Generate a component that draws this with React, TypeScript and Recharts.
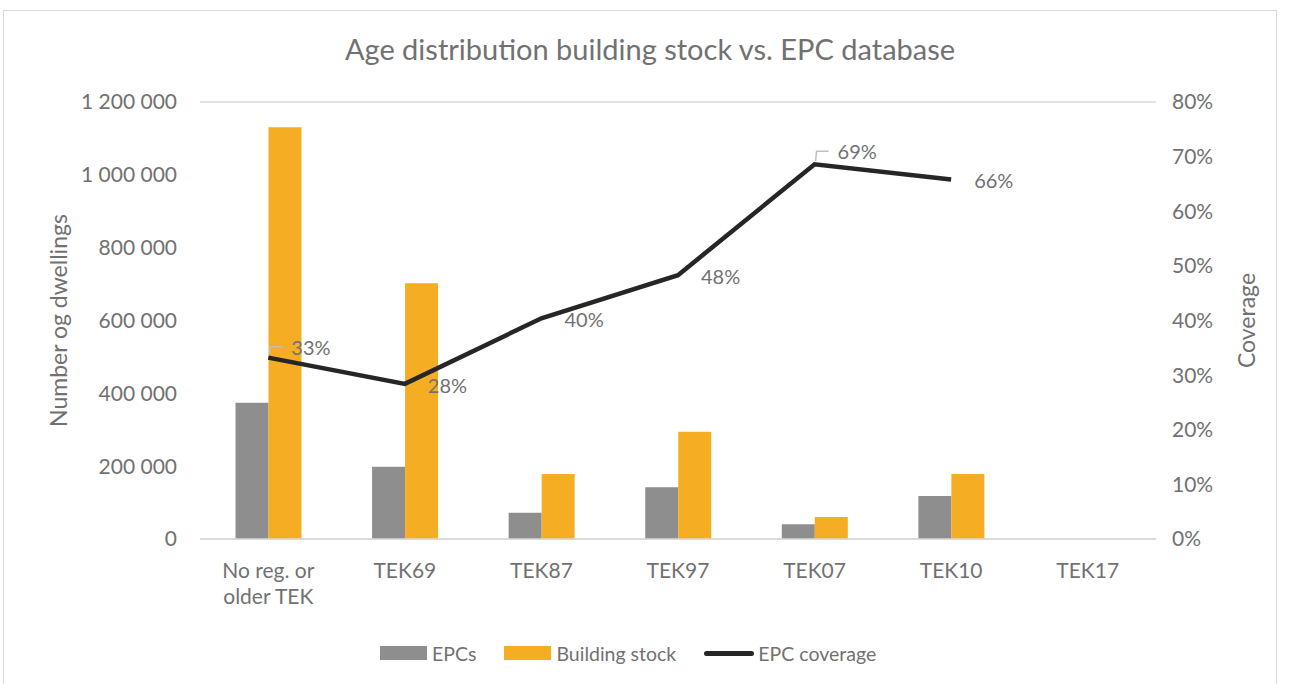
import React from "react";
import {
  ComposedChart,
  Bar,
  Line,
  XAxis,
  YAxis,
  CartesianGrid,
  Legend,
  LabelList,
  Text,
} from "recharts";

const categories = [
  "No reg. or older TEK",
  "TEK69",
  "TEK87",
  "TEK97",
  "TEK07",
  "TEK10",
  "TEK17",
];
const epcs = [374000, 198500, 72000, 142000, 40300, 118000, null];
const buildingStock = [1131000, 702000, 178500, 294600, 60400, 178500, null];
const coverage = [0.332, 0.284, 0.404, 0.483, 0.686, 0.658, null];

const seriesNames = ["EPCs", "Building stock", "EPC coverage"];
const leftTicks = [0, 200000, 400000, 600000, 800000, 1000000, 1200000];
const rightTicks = [0, 0.1, 0.2, 0.3, 0.4, 0.5, 0.6, 0.7, 0.8];

const data = categories.map((name, i) => ({
  name,
  EPCs: epcs[i],
  "Building stock": buildingStock[i],
  "EPC coverage": coverage[i],
}));

const FONT = "Lato, 'Open Sans', sans-serif";
const TEXT = "#717171";
const GRID = "#d9d9d9";
const GREY = "#8e8e8e";
const ORANGE = "#f5ad23";
const LINE = "#262626";

// labels that Excel moved up, with a leader line
const LABEL_NUDGE: Record<number, number> = { 0: -10, 4: -12 };

const fmtThousands = (v: number) =>
  v.toString().replace(/\B(?=(\d{3})+(?!\d))/g, " ");

function CategoryTick(props: any) {
  const { x, y, payload } = props;
  return (
    <Text
      x={x}
      y={y + 24}
      width={100}
      textAnchor="middle"
      verticalAnchor="start"
      lineHeight={26}
      fontSize={21}
      fontFamily={FONT}
      fill={TEXT}
    >
      {payload.value}
    </Text>
  );
}

function CoverageLabel(props: any) {
  const { x, y, value, index } = props;
  if (value == null || x == null || y == null) return null;
  const leader = index in LABEL_NUDGE;
  const dy = leader ? LABEL_NUDGE[index] : 1.5;
  return (
    <g>
      {leader && (
        <path
          d={`M${x + 1},${y - 3} L${x + 2},${y + dy - 1} L${x + 14},${y + dy - 1}`}
          stroke="#bfbfbf"
          strokeWidth={1.5}
          fill="none"
        />
      )}
      <text
        x={x + 23}
        y={y + dy}
        dy="0.36em"
        fontSize={20}
        fontFamily={FONT}
        fill={TEXT}
      >
        {Math.round(value * 100)}%
      </text>
    </g>
  );
}

function LegendContent(props: any) {
  const items = [...(props.payload || [])].sort(
    (a: any, b: any) => seriesNames.indexOf(a.value) - seriesNames.indexOf(b.value)
  );
  return (
    <div
      style={{
        height: 28,
        display: "flex",
        alignItems: "center",
        paddingLeft: 376,
        fontFamily: FONT,
        fontSize: 19.5,
        color: TEXT,
      }}
    >
      {items.map((it: any) => (
        <div
          key={it.value}
          style={{ display: "flex", alignItems: "center", marginRight: 28 }}
        >
          {it.type === "line" ? (
            <div
              style={{
                width: 50,
                height: 5,
                borderRadius: 3,
                background: it.color,
                marginRight: 4,
              }}
            />
          ) : (
            <div
              style={{
                width: 47,
                height: 14,
                background: it.color,
                marginRight: 5,
              }}
            />
          )}
          <span>{it.value}</span>
        </div>
      ))}
    </div>
  );
}

export default function App() {
  return (
    <div
      style={{
        position: "absolute",
        left: 3,
        top: 10,
        width: 1272,
        height: 680,
        border: `1px solid ${GRID}`,
        background: "#fff",
      }}
    >
      <div
        style={{
          position: "absolute",
          top: 21,
          left: 0,
          width: 1272,
          paddingLeft: 20,
          boxSizing: "border-box",
          textAlign: "center",
          fontFamily: FONT,
          fontSize: 29,
          lineHeight: "34px",
          color: TEXT,
        }}
      >
        Age distribution building stock vs. EPC database
      </div>
      <ComposedChart
        width={1272}
        height={680}
        data={data}
        margin={{ top: 91, right: 0, bottom: 24, left: 0 }}
        barCategoryGap="26%"
        barGap={0}
      >
        <CartesianGrid vertical={false} stroke={GRID} strokeWidth={1.5} />
        <XAxis
          dataKey="name"
          height={100}
          tickLine={false}
          tickSize={0}
          tickMargin={0}
          axisLine={{ stroke: GRID, strokeWidth: 1.5 }}
          tick={<CategoryTick />}
          interval={0}
        />
        <YAxis
          yAxisId="left"
          width={196}
          domain={[0, 1200000]}
          ticks={leftTicks}
          tickFormatter={fmtThousands}
          axisLine={false}
          tickLine={false}
          tickMargin={17}
          tick={{ fill: TEXT, fontSize: 21, fontFamily: FONT }}
          label={{
            value: "Number og dwellings",
            angle: -90,
            position: "center",
            dx: -43,
            style: { fill: TEXT, fontSize: 23, fontFamily: FONT },
          }}
        />
        <YAxis
          yAxisId="right"
          orientation="right"
          width={120}
          domain={[0, 0.8]}
          ticks={rightTicks}
          tickFormatter={(v: number) => `${Math.round(v * 100)}%`}
          axisLine={false}
          tickLine={false}
          tickMargin={10}
          tick={{ fill: TEXT, fontSize: 21, fontFamily: FONT }}
          label={{
            value: "Coverage",
            angle: -90,
            position: "center",
            dx: 31,
            style: { fill: TEXT, fontSize: 23, fontFamily: FONT },
          }}
        />
        <Legend verticalAlign="bottom" content={<LegendContent />} />
        <Bar
          yAxisId="left"
          dataKey="EPCs"
          fill={GREY}
          isAnimationActive={false}
        />
        <Bar
          yAxisId="left"
          dataKey="Building stock"
          fill={ORANGE}
          isAnimationActive={false}
        />
        <Line
          yAxisId="right"
          dataKey="EPC coverage"
          stroke={LINE}
          strokeWidth={4.5}
          dot={false}
          isAnimationActive={false}
          legendType="line"
        >
          <LabelList dataKey="EPC coverage" content={<CoverageLabel />} />
        </Line>
      </ComposedChart>
    </div>
  );
}
